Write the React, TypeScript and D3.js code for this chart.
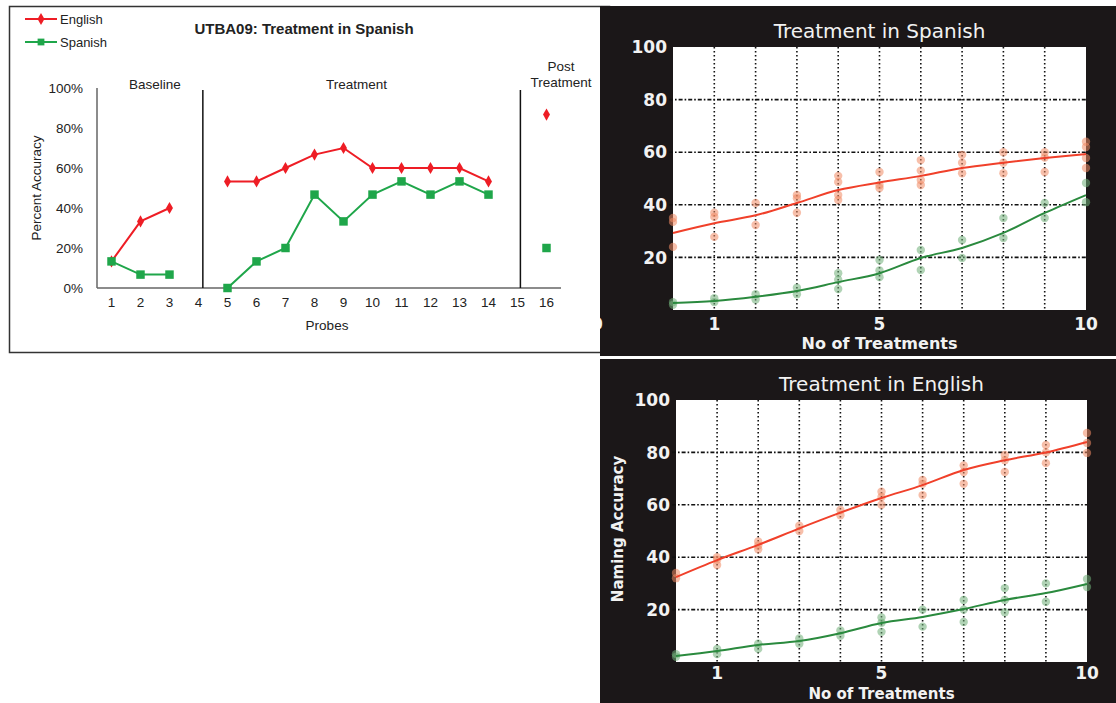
import React from 'react';
import * as d3 from 'd3';

const W = 1116;
const H = 703;

// left chart: probe data (null = no probe / phase gap)
const probes = [1, 2, 3, 4, 5, 6, 7, 8, 9, 10, 11, 12, 13, 14, 15, 16];
const englishProbe = [13.3, 33.3, 40, null, 53.3, 53.3, 60, 66.7, 70, 60, 60, 60, 60, 53.3, null, 86.7];
const spanishProbe = [13.3, 6.7, 6.7, null, 0, 13.3, 20, 46.7, 33.3, 46.7, 53.3, 46.7, 53.3, 46.7, null, 20];
const percentTicks = [0, 20, 40, 60, 80, 100];
const phaseBreaks = [4.15, 15.1];
const phaseLabels = [
    { at: 2.5, lines: ['Baseline'] },
    { at: 9.45, lines: ['Treatment'] },
    { at: 16.5, lines: ['Post', 'Treatment'] },
];

// right charts: fitted curves and single-subject points per treatment session
const sessions = [0, 1, 2, 3, 4, 5, 6, 7, 8, 9, 10];
const spanRedFit = [29.3, 33, 36, 40.7, 45.6, 48.5, 51, 54, 56, 57.8, 59.3];
const spanGreenFit = [2.7, 3.4, 5, 7.2, 10.6, 14, 19.8, 23.6, 29.3, 36.9, 43.7];
const spanRedPts = [
    [24, 33.5, 35], [27.8, 35.4, 37], [32.3, 40.7], [37, 43.7, 42.5],
    [41.8, 43.7, 48.7, 51], [46.4, 47.5, 52.5], [47.5, 49.4, 53, 57],
    [52, 56, 59], [52, 56, 60], [52.5, 58, 60], [54, 57.8, 62, 64],
];
const spanGreenPts = [
    [2, 3], [3, 4.5], [4, 6], [6, 8.5], [8, 11.5, 14], [12.5, 15, 19],
    [15.2, 22.8], [19.8, 26.6], [27.4, 35], [35, 40.7], [41, 48.3],
];
const engRedFit = [32.4, 38.9, 44.7, 51, 57, 62.6, 67.5, 73.3, 77, 80, 84];
const engGreenFit = [2.3, 4.2, 6.5, 8, 11, 14.9, 17.2, 20.2, 23.7, 26.3, 29.8];
const engRedPts = [
    [32, 34], [37, 39, 40], [43, 44.5, 46], [50, 52], [56, 58], [60, 63, 65],
    [63.7, 68, 69.5], [68, 72.5, 75], [72.5, 77, 79], [75.9, 80, 82.8], [79.8, 83.6, 87.4],
];
const engGreenPts = [
    [2, 3], [3, 5], [5, 7], [7, 9], [10, 12], [11.5, 15, 17], [13.5, 20],
    [15.3, 20, 23.7], [19, 23.7, 28.2], [23, 30], [28.6, 31.7],
];
const gridX = [1, 2, 3, 4, 5, 6, 7, 8, 9];
const gridY = [20, 40, 60, 80];
const yTicks = [20, 40, 60, 80, 100];
const xTicks = [1, 5, 10];

const RED = '#ee1d25';
const GREEN = '#1fa64a';

function ProbeChart() {
    const x = d3.scaleLinear().domain([0.5, 16.5]).range([97, 561]);
    const y = d3.scaleLinear().domain([0, 100]).range([288, 88]);
    const line = d3.line<number | null>()
        .defined(d => d !== null)
        .x((_, i) => x(probes[i]))
        .y(d => y(d as number));
    const diamond = d3.symbol(d3.symbolDiamond, 42)();
    const square = d3.symbol(d3.symbolSquare, 72)();
    const font = '"Liberation Sans", Arial, sans-serif';
    const fs = 13.5;

    return (
        <g fontFamily={font} fill="#222">
            <rect x={9.5} y={6.5} width={600} height={346} fill="#fff" stroke="#333" strokeWidth={1.5} />
            {/* legend */}
            <line x1={25} x2={57} y1={19} y2={19} stroke={RED} strokeWidth={2} />
            <path d={diamond} transform="translate(41,19)" fill={RED} />
            <text x={60} y={23.5} fontSize={13}>English</text>
            <line x1={25} x2={57} y1={42} y2={42} stroke={GREEN} strokeWidth={2} />
            <path d={square} transform="translate(41,42) scale(0.8)" fill={GREEN} />
            <text x={60} y={46.5} fontSize={13}>Spanish</text>
            <text x={304} y={34} fontSize={15} fontWeight="bold" textAnchor="middle">UTBA09: Treatment in Spanish</text>

            {/* axes */}
            <line x1={x(0.5)} x2={x(0.5)} y1={y(100)} y2={y(0)} stroke="#666" strokeWidth={1.5} />
            <line x1={x(0.5)} x2={x(16.5)} y1={y(0)} y2={y(0)} stroke="#666" strokeWidth={1.5} />
            {percentTicks.map(t => (
                <text key={t} x={83} y={y(t)} dy="0.35em" fontSize={fs} textAnchor="end">{t}%</text>
            ))}
            {probes.map(p => (
                <text key={p} x={x(p)} y={y(0) + 19} fontSize={fs} textAnchor="middle">{p}</text>
            ))}
            <text x={327} y={330} fontSize={fs} textAnchor="middle">Probes</text>
            <text transform={`translate(41,${y(50)}) rotate(-90)`} fontSize={fs} textAnchor="middle">Percent Accuracy</text>

            {/* phases */}
            {phaseBreaks.map(b => (
                <line key={b} x1={x(b)} x2={x(b)} y1={y(99)} y2={y(0)} stroke="#111" strokeWidth={1.5} />
            ))}
            {phaseLabels.map(p => p.lines.map((l, i) => (
                <text key={p.at + l} x={x(p.at)} y={(p.lines.length > 1 ? 71 : 89) + i * 15.5} fontSize={fs} textAnchor="middle">{l}</text>
            )))}

            {/* series */}
            <path d={line(englishProbe) || ''} fill="none" stroke={RED} strokeWidth={2} />
            <path d={line(spanishProbe) || ''} fill="none" stroke={GREEN} strokeWidth={2} />
            {englishProbe.map((v, i) => v === null ? null : (
                <path key={'e' + i} d={diamond} transform={`translate(${x(probes[i])},${y(v)})`} fill={RED} />
            ))}
            {spanishProbe.map((v, i) => v === null ? null : (
                <path key={'s' + i} d={square} transform={`translate(${x(probes[i])},${y(v)})`} fill={GREEN} />
            ))}
        </g>
    );
}

type PanelProps = {
    top: number;
    bottom: number;
    plot: { left: number; right: number; top: number; bottom: number };
    title: string;
    yLabel?: string;
    redFit: number[];
    greenFit: number[];
    redPts: number[][];
    greenPts: number[][];
    zeroLabel?: boolean;
    clipId: string;
    tickGap: number;
    xLabelGap: number;
    xLabelSize: number;
};

function TreatmentPanel(props: PanelProps) {
    const { plot, top, bottom, clipId } = props;
    const x = d3.scaleLinear().domain([0, 10]).range([plot.left, plot.right]);
    const y = d3.scaleLinear().domain([0, 100]).range([plot.bottom, plot.top]);
    const fit = d3.line<number>()
        .x((_, i) => x(sessions[i]))
        .y(d => y(d))
        .curve(d3.curveMonotoneX);
    const font = '"DejaVu Sans", Verdana, sans-serif';
    const cx = (plot.left + plot.right) / 2;

    return (
        <g fontFamily={font}>
            <defs>
                <clipPath id={clipId}>
                    <rect x={600} y={top} width={W - 600} height={bottom - top} />
                </clipPath>
            </defs>
            <g clipPath={`url(#${clipId})`}>
                <rect x={600} y={top} width={W - 600} height={bottom - top} fill="#1b1718" />
                <rect x={plot.left} y={plot.top} width={plot.right - plot.left} height={plot.bottom - plot.top} fill="#fff" />

                {gridX.map(g => (
                    <line key={'gx' + g} x1={x(g)} x2={x(g)} y1={plot.top} y2={plot.bottom}
                        stroke="#111" strokeWidth={1.6} strokeDasharray="1.6,2.4" />
                ))}
                {gridY.map(g => (
                    <line key={'gy' + g} x1={plot.left - 4} x2={plot.right} y1={y(g)} y2={y(g)}
                        stroke="#111" strokeWidth={1.6} strokeDasharray="4,2,1.6,2" />
                ))}

                {props.redPts.map((pts, i) => pts.map((v, j) => (
                    <circle key={`r${i}-${j}`} cx={x(sessions[i])} cy={y(v)} r={4.2} fill="#f08a64" opacity={0.55} />
                )))}
                {props.greenPts.map((pts, i) => pts.map((v, j) => (
                    <circle key={`g${i}-${j}`} cx={x(sessions[i])} cy={y(v)} r={4.2} fill="#6fae78" opacity={0.55} />
                )))}
                <path d={fit(props.redFit) || ''} fill="none" stroke="#f0402a" strokeWidth={2} />
                <path d={fit(props.greenFit) || ''} fill="none" stroke="#2a8a3e" strokeWidth={2} />

                {yTicks.map(t => (
                    <text key={'yt' + t} x={plot.left - 6} y={y(t)} dy="0.36em" fill="#f2f2f2"
                        fontSize={17} fontWeight="bold" textAnchor="end">{t}</text>
                ))}
                {xTicks.map(t => (
                    <text key={'xt' + t} x={x(t)} y={plot.bottom + props.tickGap} fill="#f2f2f2"
                        fontSize={17} fontWeight="bold" textAnchor="middle">{t}</text>
                ))}
                {props.zeroLabel && (
                    <text x={597} y={plot.bottom + props.tickGap} fill="#f2f2f2" fontSize={17} fontWeight="bold" textAnchor="middle">0</text>
                )}
                <text x={cx} y={plot.bottom + props.xLabelGap} fill="#f2f2f2" fontSize={props.xLabelSize} fontWeight="bold" textAnchor="middle">No of Treatments</text>
                <text x={cx} y={plot.top - 9} fill="#f2f2f2" fontSize={20} textAnchor="middle">{props.title}</text>
                {props.yLabel && (
                    <text transform={`translate(623,${y(50) - 2}) rotate(-90)`} fill="#f2f2f2"
                        fontSize={15} fontWeight="bold" textAnchor="middle">{props.yLabel}</text>
                )}
            </g>
        </g>
    );
}

export default function App() {
    return (
        <svg width={W} height={H} style={{ position: 'absolute', left: 0, top: 0, background: '#fff' }}>
            <ProbeChart />
            <TreatmentPanel
                clipId="clipTop"
                top={6}
                bottom={356}
                plot={{ left: 673, right: 1086, top: 47, bottom: 310 }}
                title="Treatment in Spanish"
                redFit={spanRedFit}
                greenFit={spanGreenFit}
                redPts={spanRedPts}
                greenPts={spanGreenPts}
                zeroLabel
                tickGap={20}
                xLabelGap={39}
                xLabelSize={16}
            />
            <TreatmentPanel
                clipId="clipBottom"
                top={359}
                bottom={H}
                plot={{ left: 676, right: 1087, top: 400, bottom: 662 }}
                title="Treatment in English"
                yLabel="Naming Accuracy"
                redFit={engRedFit}
                greenFit={engGreenFit}
                redPts={engRedPts}
                greenPts={engGreenPts}
                tickGap={17}
                xLabelGap={37}
                xLabelSize={15}
            />
        </svg>
    );
}
